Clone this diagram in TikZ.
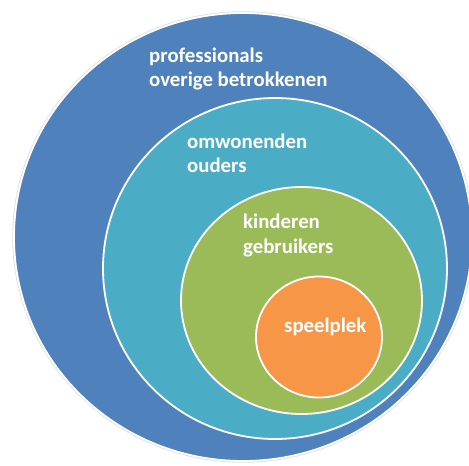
\documentclass[tikz,border=0pt]{standalone}
\usepackage{fontspec}
\setmainfont{Carlito}
\definecolor{oblue}{HTML}{4F81BD}
\definecolor{ocyan}{HTML}{4BACC6}
\definecolor{ogreen}{HTML}{9BBB59}
\definecolor{oorange}{HTML}{F79646}
\tikzset{
  ring/.style={draw=white, line width=1.8pt},
  lbl/.style={anchor=base west, text=white, inner sep=0pt, font=\bfseries\fontsize{20.8}{24}\selectfont}
}
\begin{document}
\begin{tikzpicture}[x=1pt,y=-1pt]
\useasboundingbox (0,0) rectangle (469,466);
\fill[white] (0,0) rectangle (469,466);
\draw[draw=black!12, line width=2.5pt] (243,237) ellipse [x radius=229.5, y radius=224.5];
\path[ring, fill=oblue] (243,237) ellipse [x radius=229, y radius=224];
\path[ring, fill=ocyan] (275,268.5) ellipse [x radius=172, y radius=170.5];
\path[ring, fill=ogreen] (301.5,300.5) ellipse [x radius=120.5, y radius=113.5];
\path[ring, fill=oorange] (319,337) ellipse [x radius=63, y radius=60.5];
\node[lbl] (prof) at (149,62) {professionals};
\node[lbl] (over) at (149,86) {overige betrokkenen};
\node[lbl] (omw) at (187,148) {omwonenden};
\node[lbl] (oud) at (187,172) {ouders};
\node[lbl] (kind) at (243,228) {kinderen};
\node[lbl] (gebr) at (243,253) {gebruikers};
\node[lbl] (speel) at (284,332) {speelplek};
\end{tikzpicture}
\end{document}
